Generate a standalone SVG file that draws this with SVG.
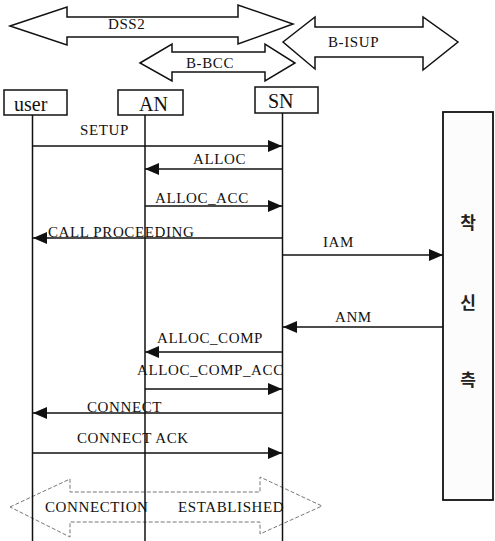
<svg xmlns="http://www.w3.org/2000/svg" width="495" height="541" viewBox="0 0 495 541">
<style>
.t{font-family:"Liberation Serif","Times New Roman",serif;font-size:15px;letter-spacing:0.6px;fill:#111}
.big{font-family:"Liberation Serif","Times New Roman",serif;font-size:20px;fill:#111}
.k{font-family:"Noto Sans CJK KR","Noto Sans",sans-serif;font-size:17px;font-weight:bold;fill:#222;text-anchor:middle}
.ba{fill:#fff;stroke:#111;stroke-width:1.5;stroke-linejoin:miter}
.box{fill:#fff;stroke:#111;stroke-width:1.5}
.life{stroke:#111;stroke-width:1.5;fill:none}
.msg{stroke:#111;stroke-width:1.5;fill:none}
</style>
<defs>
<marker id="ah" markerWidth="14" markerHeight="12" refX="14" refY="6" orient="auto" markerUnits="userSpaceOnUse">
<path d="M0,0 L14,6 L0,12 Z" fill="#111"/>
</marker>
</defs>
<g id="dss2">
<polygon class="ba" points="10,26 67,7 67,17 238,17 238,5 293,24 238,44 238,37 67,37 67,45"/>
<text class="t" x="108" y="29">DSS2</text>
</g>
<g id="bisup">
<polygon class="ba" points="283,42 315,17 315,27 423,27 423,17 458,42 423,70 423,57 315,57 315,69"/>
<text class="t" x="328" y="47">B-ISUP</text>
</g>
<g id="bbcc">
<polygon class="ba" points="140,63 172,44 172,52 265,52 265,44 295,63 265,81 265,72 172,72 172,81"/>
<text class="t" x="186" y="68">B-BCC</text>
</g>
<g id="established">
<polygon points="10,507 70,479 70,492 260,492 260,477 322,506 260,534 260,522 70,522 70,537" fill="#fff" stroke="#777" stroke-width="1" stroke-dasharray="4,2"/>
<text class="t" x="45" y="512">CONNECTION</text>
<text class="t" x="178" y="512">ESTABLISHED</text>
</g>
<g id="user">
<rect class="box" x="4" y="90" width="63" height="25"/>
<text class="big" x="14" y="111">user</text>
<line class="life" x1="32.5" y1="115" x2="32.5" y2="541"/>
</g>
<g id="an">
<rect class="box" x="118" y="90" width="65" height="25"/>
<text class="big" x="139" y="111">AN</text>
<line class="life" x1="145" y1="115" x2="145" y2="541"/>
</g>
<g id="sn">
<rect class="box" x="255" y="87" width="63" height="26"/>
<text class="big" x="268" y="108">SN</text>
<line class="life" x1="282.5" y1="113" x2="282.5" y2="541"/>
</g>
<g id="called">
<rect x="443" y="112" width="50" height="388" fill="#fcfcfc" stroke="#111" stroke-width="1.8"/>
<text class="k" x="468" y="229">착</text>
<text class="k" x="468" y="309">신</text>
<text class="k" x="468" y="386">측</text>
</g>
<g id="connectors">
<line class="msg" x1="33" y1="146" x2="282" y2="146" marker-end="url(#ah)"/>
<text class="t" x="80" y="135">SETUP</text>
<line class="msg" x1="282" y1="169" x2="145" y2="169" marker-end="url(#ah)"/>
<text class="t" x="193" y="164">ALLOC</text>
<line class="msg" x1="145" y1="206" x2="282" y2="206" marker-end="url(#ah)"/>
<text class="t" x="155" y="203">ALLOC_ACC</text>
<line class="msg" x1="282" y1="238" x2="33" y2="238" marker-end="url(#ah)"/>
<text class="t" x="48" y="237">CALL PROCEEDING</text>
<line class="msg" x1="283" y1="255" x2="443" y2="255" marker-end="url(#ah)"/>
<text class="t" x="323" y="247">IAM</text>
<line class="msg" x1="443" y1="327" x2="283" y2="327" marker-end="url(#ah)"/>
<text class="t" x="335" y="322">ANM</text>
<line class="msg" x1="282" y1="352" x2="145" y2="352" marker-end="url(#ah)"/>
<text class="t" x="157" y="343">ALLOC_COMP</text>
<line class="msg" x1="145" y1="389" x2="282" y2="389" marker-end="url(#ah)"/>
<text class="t" x="137" y="375">ALLOC_COMP_ACC</text>
<line class="msg" x1="282" y1="413" x2="33" y2="413" marker-end="url(#ah)"/>
<text class="t" x="87" y="412">CONNECT</text>
<line class="msg" x1="33" y1="453" x2="282" y2="453" marker-end="url(#ah)"/>
<text class="t" x="77" y="443">CONNECT ACK</text>
</g>
</svg>
